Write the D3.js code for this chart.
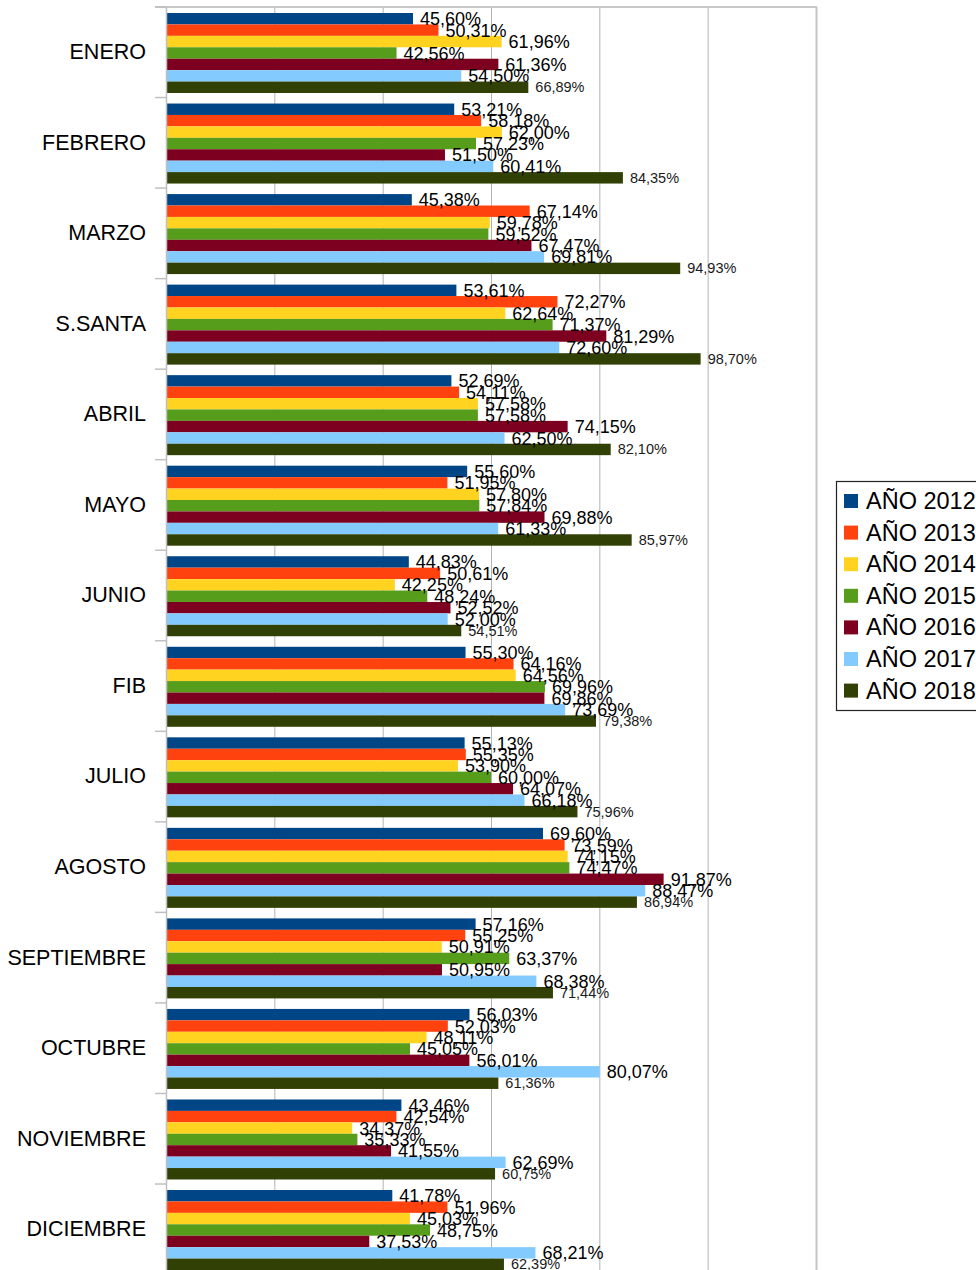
<!DOCTYPE html>
<html>
<head>
<meta charset="utf-8">
<script src="https://cdn.jsdelivr.net/npm/d3@7"></script>
<style>
  html, body { margin: 0; padding: 0; background: #fff; }
  svg { display: block; font-family: "Liberation Sans", Arial, sans-serif; }
</style>
</head>
<body>
<svg id="chart" width="976" height="1270"></svg>
<script>
// Occupancy by period, one array per year
const categories = ["ENERO", "FEBRERO", "MARZO", "S.SANTA", "ABRIL", "MAYO", "JUNIO", "FIB",
  "JULIO", "AGOSTO", "SEPTIEMBRE", "OCTUBRE", "NOVIEMBRE", "DICIEMBRE"];
const seriesNames = ["AÑO 2012", "AÑO 2013", "AÑO 2014", "AÑO 2015", "AÑO 2016", "AÑO 2017", "AÑO 2018"];
const seriesColors = ["#004586", "#ff420e", "#ffd320", "#579d1c", "#7e0021", "#83caff", "#314004"];

const y2012 = [45.60, 53.21, 45.38, 53.61, 52.69, 55.60, 44.83, 55.30, 55.13, 69.60, 57.16, 56.03, 43.46, 41.78];
const y2013 = [50.31, 58.18, 67.14, 72.27, 54.11, 51.95, 50.61, 64.16, 55.35, 73.59, 55.25, 52.03, 42.54, 51.96];
const y2014 = [61.96, 62.00, 59.78, 62.64, 57.58, 57.80, 42.25, 64.56, 53.90, 74.15, 50.91, 48.11, 34.37, 45.03];
const y2015 = [42.56, 57.23, 59.52, 71.37, 57.58, 57.84, 48.24, 69.96, 60.00, 74.47, 63.37, 45.05, 35.33, 48.75];
const y2016 = [61.36, 51.50, 67.47, 81.29, 74.15, 69.88, 52.52, 69.86, 64.07, 91.87, 50.95, 56.01, 41.55, 37.53];
const y2017 = [54.50, 60.41, 69.81, 72.60, 62.50, 61.33, 52.00, 73.69, 66.18, 88.47, 68.38, 80.07, 62.69, 68.21];
const y2018 = [66.89, 84.35, 94.93, 98.70, 82.10, 85.97, 54.51, 79.38, 75.96, 86.94, 71.44, 61.36, 60.75, 62.39];
const seriesValues = [y2012, y2013, y2014, y2015, y2016, y2017, y2018];

const gridTicks = [0, 20, 40, 60, 80, 100, 120];

// Layout
const plotLeft = 166, plotRight = 816, plotTop = 7;
const bandStep = 90.54;
const plotBottom = plotTop + bandStep * categories.length;

const svg = d3.select("#chart");

const x = d3.scaleLinear().domain([0, 120]).range([plotLeft, plotRight]);
const y = d3.scaleBand().domain(categories).range([plotTop, plotBottom]).paddingInner(0).paddingOuter(0);
const ySub = d3.scaleBand().domain(seriesNames).range([6, 6 + 80]).padding(0);

const locale = d3.formatLocale({ decimal: ",", thousands: ".", grouping: [3], currency: ["", "€"] });
const fmt = locale.format(".2f");

// Vertical gridlines
const grid = svg.append("g").attr("transform", `translate(0,${plotTop})`)
  .call(d3.axisTop(x).tickValues(gridTicks).tickSize(-(plotBottom - plotTop)).tickFormat(""));
grid.select(".domain").remove();
grid.selectAll(".tick line").attr("stroke", "#b3b3b3").attr("stroke-width", 1);
grid.selectAll(".tick").filter(d => d === 0).remove();
grid.selectAll(".tick").filter(d => d === 120).select("line").attr("stroke", "#c4c4c4").attr("stroke-width", 2);

// Top border
svg.append("line")
  .attr("x1", plotLeft - 11).attr("x2", x(120) + 1)
  .attr("y1", plotTop).attr("y2", plotTop)
  .attr("stroke", "#c8c8c8").attr("stroke-width", 2);

// Bars
const groups = svg.append("g").selectAll("g.cat")
  .data(categories)
  .join("g")
  .attr("class", "cat")
  .attr("transform", d => `translate(0,${y(d)})`);

groups.each(function(cat, ci) {
  const g = d3.select(this);
  seriesNames.forEach((s, si) => {
    const v = seriesValues[si][ci];
    g.append("rect")
      .attr("x", x(0))
      .attr("y", ySub(s))
      .attr("width", x(v) - x(0))
      .attr("height", ySub.bandwidth())
      .attr("fill", seriesColors[si]);
  });
});

// Category axis
const yAxis = svg.append("g").attr("transform", `translate(${plotLeft},0)`)
  .call(d3.axisLeft(y).tickSize(0).tickPadding(20));
yAxis.select(".domain").attr("stroke", "#c0c0c0").attr("stroke-width", 1.5);
yAxis.selectAll("text").attr("font-size", 21.5).attr("fill", "#000")
  .attr("font-family", "'Liberation Sans', Arial, sans-serif");

// Boundary ticks between categories
svg.append("g").selectAll("line")
  .data(categories)
  .join("line")
  .attr("x1", plotLeft - 11).attr("x2", plotLeft)
  .attr("y1", d => y(d)).attr("y2", d => y(d))
  .attr("stroke", "#c0c0c0").attr("stroke-width", 1.5);

// Value labels
groups.each(function(cat, ci) {
  const g = d3.select(this);
  seriesNames.forEach((s, si) => {
    const v = seriesValues[si][ci];
    const last = si === seriesNames.length - 1;
    const cy = ySub(s) + ySub.bandwidth() / 2;
    g.append("text")
      .attr("x", x(v) + 7)
      .attr("y", cy + (last ? 5 : 6.5))
      .attr("font-size", last ? 14.5 : 18)
      .attr("fill", last ? "#1a1a1a" : "#000")
      .text(fmt(v) + "%");
  });
});

// Legend
const legend = svg.append("g").attr("transform", "translate(836,481)");
legend.append("rect")
  .attr("x", 0.5).attr("y", 0.5)
  .attr("width", 160).attr("height", 229)
  .attr("fill", "#fff").attr("stroke", "#222").attr("stroke-width", 1.2);
const items = legend.selectAll("g.item")
  .data(seriesNames)
  .join("g")
  .attr("class", "item")
  .attr("transform", (d, i) => `translate(0,${20 + i * 31.6})`);
items.append("rect")
  .attr("x", 8).attr("y", -7)
  .attr("width", 14).attr("height", 14)
  .attr("fill", (d, i) => seriesColors[i]);
items.append("text")
  .attr("x", 30).attr("y", 8)
  .attr("font-size", 23.5)
  .attr("fill", "#000")
  .text(d => d);
</script>
</body>
</html>
